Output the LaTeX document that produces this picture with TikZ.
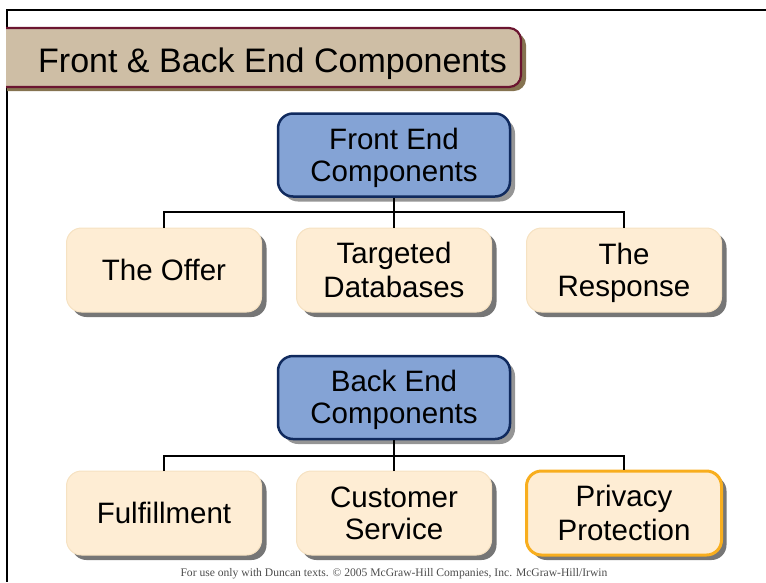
\documentclass[tikz,border=0pt]{standalone}
\usepackage{fontspec}
\setmainfont{Liberation Sans}
\newfontfamily\footfont{Liberation Serif}
\usetikzlibrary{shadows}

\definecolor{tabfill}{HTML}{CEBEA5}
\definecolor{tabedge}{HTML}{6B1530}
\definecolor{tabshade}{HTML}{857350}
\definecolor{headfill}{HTML}{84A3D5}
\definecolor{headedge}{HTML}{102A5E}
\definecolor{itemfill}{HTML}{FEEDD4}
\definecolor{itemedge}{HTML}{F6E2C2}
\definecolor{hilite}{HTML}{F8AE1E}
\definecolor{shade}{HTML}{767676}
\definecolor{softshade}{HTML}{959595}

% one line of box text with a fixed height and depth
\newcommand{\boxline}[1]{\rule[-5.1pt]{0pt}{32pt}#1}

\tikzset{
  boxtext/.style={font=\fontsize{29.5}{32}\selectfont, align=center, inner sep=0pt},
  headbox/.style={boxtext, draw=headedge, line width=2.5pt, fill=headfill,
    rounded corners=15pt, minimum width=232pt, minimum height=83pt,
    drop shadow={shadow xshift=5pt, shadow yshift=-5pt, fill=softshade, opacity=1}},
  itembox/.style={boxtext, draw=itemedge, line width=1pt, fill=itemfill,
    rounded corners=15pt, minimum width=195pt, minimum height=84pt,
    drop shadow={shadow xshift=5pt, shadow yshift=-5pt, fill=shade, opacity=1}},
  keybox/.style={itembox, draw=hilite, line width=3pt},
  wire/.style={line width=2pt, black},
  frame/.style={line width=2pt, black}
}

\begin{document}
\begin{tikzpicture}[x=1pt, y=-1pt]
\useasboundingbox (0,0) rectangle (766,582);

% slide frame: top and left rules
\coordinate (fr1) at (766,10);
\coordinate (fr2) at (7,10);
\coordinate (fr3) at (7,582);
\draw[frame] (fr1) -- (fr2) -- (fr3);

% title tab with its shadow
\fill[tabshade, rounded corners=12pt] (7,33) -- (526,33) -- (526,91) -- (7,91);
\fill[tabfill, rounded corners=12pt] (6,28) -- (521,28) -- (521,87) -- (6,87);
\draw[tabedge, line width=2.2pt, rounded corners=12pt] (6,28) -- (521,28) -- (521,87) -- (6,87);
\node[font=\fontsize{34}{36}\selectfont, anchor=base west, inner sep=0pt] (title) at (38,72) {Front \& Back End Components};

% front end tree
\node[headbox] (front) at (394,155) {\boxline{Front End}\\\boxline{Components}};
\node[itembox] (offer) at (164,270) {\boxline{The Offer}};
\node[itembox] (targeted) at (394,270) {\boxline{Targeted}\\\boxline{Databases}};
\node[itembox] (response) at (624,270) {\boxline{The}\\\boxline{Response}};
\coordinate (fbus) at (394,212);
\draw[wire] (front.south) -- (fbus);
\draw[wire] (offer.north) |- (fbus) -| (response.north);
\draw[wire] (fbus) -- (targeted.north);

% back end tree
\node[headbox] (back) at (394,397.5) {\boxline{Back End}\\\boxline{Components}};
\node[itembox] (fulfil) at (164,513) {\boxline{Fulfillment}};
\node[itembox] (service) at (394,513) {\boxline{Customer}\\\boxline{Service}};
\node[keybox] (privacy) at (624,513) {\boxline{Privacy}\\\boxline{Protection}};
\coordinate (bbus) at (394,456);
\draw[wire] (back.south) -- (bbus);
\draw[wire] (fulfil.north) |- (bbus) -| (privacy.north);
\draw[wire] (bbus) -- (service.north);

% footer line
\node[font=\footfont\fontsize{11.6}{13}\selectfont, text=black!70, inner sep=0pt] (footer) at (394,574)
  {For use only with Duncan texts. \textcopyright{} 2005 McGraw-Hill Companies, Inc. McGraw-Hill/Irwin};
\end{tikzpicture}
\end{document}
